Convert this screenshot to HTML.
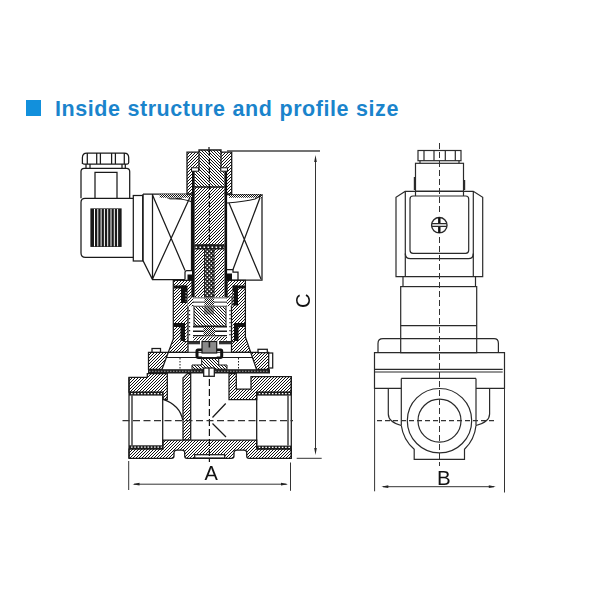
<!DOCTYPE html>
<html><head><meta charset="utf-8"><style>
html,body{margin:0;padding:0;background:#fff;width:600px;height:600px;overflow:hidden}
.sq{position:absolute;left:26px;top:100px;width:15px;height:16px;background:#1290dc}
.t{position:absolute;left:55px;top:97px;font-family:"Liberation Sans",sans-serif;font-weight:bold;font-size:21.5px;color:#1a84cc;white-space:nowrap;line-height:24px;letter-spacing:0.55px;word-spacing:0.5px}
svg{position:absolute;left:0;top:0;will-change:transform}
</style></head><body>
<div class="sq"></div>
<div class="t" id="t">Inside structure and profile size</div>
<svg width="600" height="600" viewBox="0 0 600 600">
<defs>
<pattern id="sp" width="4" height="4" patternUnits="userSpaceOnUse"><rect width="4" height="4" fill="#1a1a1a"/><rect x="0.6" y="0.6" width="1.6" height="1.6" fill="#fff"/><rect x="2.6" y="2.6" width="1.6" height="1.6" fill="#fff"/></pattern>
<pattern id="dt" width="2" height="2" patternUnits="userSpaceOnUse"><rect width="2" height="2" fill="#fff"/><rect width="1" height="1" fill="#111"/><rect x="1" y="1" width="1" height="1" fill="#111"/></pattern>
<clipPath id="c1"><path d="M187,152.2h44.7v41.8h-44.7Z"/></clipPath>
<clipPath id="c2"><path d="M199,150h22v37h-22Z"/></clipPath>
<clipPath id="c3"><path d="M194.5,171h30v16h-30Z"/></clipPath>
<clipPath id="c4"><path d="M194.5,187h30v58h-30Z"/></clipPath>
<clipPath id="c5"><path d="M194.5,245h30v52h-30Z"/></clipPath>
<clipPath id="c6"><path d="M173.3,280.4H192V297.3H188V352.3H168.3L173.3,339Z"/></clipPath>
<clipPath id="c7"><path d="M227,280.4H245.4V337L250.7,352.3H231.5V297.3H227Z"/></clipPath>
<clipPath id="c8"><path d="M148.5,352.3H168.3L162,369.3H148.5Z"/></clipPath>
<clipPath id="c9"><path d="M250.7,352.3H268.7V369.3H256.5Z"/></clipPath>
<clipPath id="c10"><path d="M194,306h32v20h-32Z"/></clipPath>
<clipPath id="c11"><path d="M187.5,297.3h6v9h-6Z"/></clipPath>
<clipPath id="c12"><path d="M226.5,297.3h5v9h-5Z"/></clipPath>
<clipPath id="c13"><path d="M193,336.5h34v4h-34Z"/></clipPath>
<clipPath id="c14"><path d="M201.7,358.5H218.7V365H227V369.2H192V365H201.7Z"/></clipPath>
<clipPath id="c15"><path d="M129,377.3H147.3V373.5H167.3V399.3H163V392H129Z"/></clipPath>
<clipPath id="c16"><path d="M183,378L187.5,373.5H190.7V440H183Z"/></clipPath>
<clipPath id="c17"><path d="M129,449H163V440H256.7V449H291.3V458.3H249Q246.7,458.3 246.7,456V452.5Q246.7,450 244,450H237Q234,450 234,452.5V456Q234,458.3 231.5,458.3H187Q184.7,458.3 184.7,456V452.5Q184.7,450 182,450H177Q174,450 174,452.5V456Q174,458.3 171.5,458.3H129Z"/></clipPath>
<clipPath id="c18"><path d="M251,376.7H291.3V392H256.7V399.7H229V373.5H236.3V389H251Z"/></clipPath>
</defs>
<g id="rightview" fill="none" stroke="#2a2a2a" stroke-width="1.2">
<rect x="418" y="150.5" width="43" height="10.2"/>
<path d="M424,150.5V160.7M434,150.5V160.7M445.3,150.5V160.7M455.3,150.5V160.7M420,160.7V163.3M459,160.7V163.3"/>
<rect x="415.5" y="163.3" width="48" height="28"/>
<path d="M415.5,191.3V196M463.5,191.3V196"/>
<path d="M414.6,177V190M464.4,180V190" stroke-width="1.6"/>
<path d="M405.3,191.3L396,197.3V276.7H482.7V197.3L473.3,191.3ZM405.3,191.3V276.7M473.3,191.3V276.7"/>
<rect x="410" y="196" width="58.7" height="57.3" rx="3"/>
<path d="M405.3,253.5Q405.3,258.7 410.5,258.7H468.3Q473.3,258.7 473.3,253.5" stroke-width="1.3"/>
<circle cx="439.3" cy="225.2" r="7.7" stroke-width="1.4"/>
<path d="M431.8,223.6H446.8M431.8,226.3H446.8" stroke-width="1.3"/>
<path d="M439.3,217.5V223M439.3,227V233" stroke-width="2.4" stroke="#111"/>
<path d="M403,276.7V286.6M475.5,276.7V286.6"/>
<rect x="400.7" y="286.6" width="76" height="66.1"/>
<path d="M400.7,325.6H476.7M400.7,338.7H476.7"/>
<path d="M378,352.7V343.5Q378,338.7 383,338.7H400.7M476.7,338.7H494Q498.4,338.7 498.4,343.5V352.7"/>
<path d="M401.3,388.3H374.5V352.7H504.5V388.3H476"/>
<path d="M374.5,369.3H502.7M374.5,372H502.7"/>
<path d="M401.3,378.4H476M401.3,378.4V425.5M476,378.4V425.5"/>
<path d="M388.3,388.3V414Q388.3,422 401.3,425.5M489.6,388.3V414Q489.6,422 476,425.5"/>
<path d="M401.3,425.5A38.5,38.5 0 0 0 414.2,449.3V459.3H464.5V449.3A38.5,38.5 0 0 0 476,425.5"/>
<circle cx="439.5" cy="420.7" r="32.2"/>
<circle cx="439.5" cy="420.7" r="21.5"/>
</g>
<g id="leftview" fill="none" stroke="#1a1a1a" stroke-width="1.25">
<!-- connector -->
<path d="M82.4,164V157.5Q82.4,153 86.9,153H124.2Q128.7,153 128.7,157.5V162.5Q128.7,164 127.2,164H83.9Q82.4,164 82.4,162.5Z"/>
<path d="M87.3,153V164M96.7,153V164M100.4,153V164M111.6,153V164M115.4,153V164M124.3,153V164"/>
<path d="M86,164V168.3M90,164V168.3M122,164V168.3M125.3,164V168.3"/>
<path d="M81,198.3V171.5Q81,168.3 84.2,168.3H126.5Q129.7,168.3 129.7,171.5V198.3"/>
<path d="M95,198.3V172.3H117V198.3"/>
<path d="M133.3,198.3H85Q81,198.3 81,202.3V253Q81,257.4 85.4,257.4H133.3"/>
<rect x="91" y="209" width="30" height="37.3" fill="#1a1a1a"/>
<path d="M94.5,209V246.3M97.8,209V246.3M101.1,209V246.3M104.4,209V246.3M107.7,209V246.3M111,209V246.3M114.3,209V246.3M117.6,209V246.3" stroke="#fff" stroke-width="1"/>
<rect x="133.3" y="195.5" width="9.4" height="65.5"/>
<!-- coil -->
<path d="M143,194H192M143,194V260.5L152.5,279.5H185M152.5,194V279.5"/>
<path d="M152.5,195L185,270.5M191,195L152.5,279"/>
<path d="M185,279.5V272.5Q185,270.5 187,270.5H191.5V195"/>
<rect x="187.5" y="274.5" width="4.5" height="6" fill="#111" stroke="none"/>
<rect x="227" y="273.5" width="5" height="7" fill="#111" stroke="none"/>
<rect x="159.7" y="194.3" width="32.6" height="3.4" fill="url(#dt)" stroke="none"/>
<path d="M166,197.7H183L180,199.5H170Z" fill="#555" stroke="none"/>
<path d="M176,198.5Q186,199.5 192,202"/>
<path d="M227,194.5H262V280H232"/>
<path d="M229,203L261,279M261,195L233,269.5"/>
<path d="M227,269.5H233V272H238V280"/>
<rect x="229" y="194.5" width="33" height="3.2" fill="url(#dt)" stroke="none"/>
<path d="M227,203Q245,201.5 255,199L262,195"/>
<!-- nut & core -->
<path d="M187,152.2h44.7v41.8h-44.7Z" fill="#fff" stroke="none"/>
<path d="M184,149L135,198M187,149L138,198M190,149L141,198M193,149L144,198M196,149L147,198M199,149L150,198M202,149L153,198M205,149L156,198M208,149L159,198M211,149L162,198M214,149L165,198M217,149L168,198M220,149L171,198M223,149L174,198M226,149L177,198M229,149L180,198M232,149L183,198M235,149L186,198M238,149L189,198M241,149L192,198M244,149L195,198M247,149L198,198M250,149L201,198M253,149L204,198M256,149L207,198M259,149L210,198M262,149L213,198M265,149L216,198M268,149L219,198M271,149L222,198M274,149L225,198M277,149L228,198M280,149L231,198M283,149L234,198" clip-path="url(#c1)" stroke="#111" stroke-width="1.0" fill="none"/>
<path d="M187,152.2h44.7v41.8h-44.7Z" stroke-width="1.3"/>
<path d="M199,150h22v37h-22Z" fill="#fff" stroke="none"/>
<path d="M196,118L225,147M196,121L225,150M196,124L225,153M196,127L225,156M196,130L225,159M196,133L225,162M196,136L225,165M196,139L225,168M196,142L225,171M196,145L225,174M196,148L225,177M196,151L225,180M196,154L225,183M196,157L225,186M196,160L225,189M196,163L225,192M196,166L225,195M196,169L225,198M196,172L225,201M196,175L225,204M196,178L225,207M196,181L225,210M196,184L225,213M196,187L225,216M196,190L225,219" clip-path="url(#c2)" stroke="#111" stroke-width="1.0" fill="none"/>
<path d="M199,150h22v37h-22Z" stroke-width="1.3"/>
<path d="M194.5,171h30v16h-30Z" fill="#fff" stroke="none"/>
<path d="M191,131L228,168M191,134L228,171M191,137L228,174M191,140L228,177M191,143L228,180M191,146L228,183M191,149L228,186M191,152L228,189M191,155L228,192M191,158L228,195M191,161L228,198M191,164L228,201M191,167L228,204M191,170L228,207M191,173L228,210M191,176L228,213M191,179L228,216M191,182L228,219M191,185L228,222M191,188L228,225M191,191L228,228" clip-path="url(#c3)" stroke="#111" stroke-width="1.0" fill="none"/>
<path d="M209,147V150"/>
<path d="M194.5,187h30v58h-30Z" fill="#fff" stroke="none"/>
<path d="M191,184L126,249M194,184L129,249M197,184L132,249M200,184L135,249M203,184L138,249M206,184L141,249M209,184L144,249M212,184L147,249M215,184L150,249M218,184L153,249M221,184L156,249M224,184L159,249M227,184L162,249M230,184L165,249M233,184L168,249M236,184L171,249M239,184L174,249M242,184L177,249M245,184L180,249M248,184L183,249M251,184L186,249M254,184L189,249M257,184L192,249M260,184L195,249M263,184L198,249M266,184L201,249M269,184L204,249M272,184L207,249M275,184L210,249M278,184L213,249M281,184L216,249M284,184L219,249M287,184L222,249M290,184L225,249M293,184L228,249" clip-path="url(#c4)" stroke="#111" stroke-width="1.0" fill="none"/>
<path d="M194.5,187H224.5M194.5,245H224.5" stroke-width="1.3"/>
<path d="M194.5,245h30v52h-30Z" fill="#fff" stroke="none"/>
<path d="M190,242L131,301M193,242L134,301M196,242L137,301M199,242L140,301M202,242L143,301M205,242L146,301M208,242L149,301M211,242L152,301M214,242L155,301M217,242L158,301M220,242L161,301M223,242L164,301M226,242L167,301M229,242L170,301M232,242L173,301M235,242L176,301M238,242L179,301M241,242L182,301M244,242L185,301M247,242L188,301M250,242L191,301M253,242L194,301M256,242L197,301M259,242L200,301M262,242L203,301M265,242L206,301M268,242L209,301M271,242L212,301M274,242L215,301M277,242L218,301M280,242L221,301M283,242L224,301M286,242L227,301" clip-path="url(#c5)" stroke="#111" stroke-width="1.0" fill="none"/>
<rect x="204.6" y="245" width="9.4" height="52" fill="url(#sp)" stroke-width="1"/>
<rect x="194.5" y="245" width="30" height="4.5" fill="#1a1a1a" stroke="none"/>
<path d="M195.5,247.2H224" stroke="#fff" stroke-width="1.6" stroke-dasharray="1.6 2.4"/>
<rect x="192" y="171" width="2.6" height="126" fill="#111" stroke="none"/>
<rect x="224.5" y="171" width="2.6" height="126" fill="#111" stroke="none"/>
<rect x="191.5" y="167.8" width="7" height="3.4" fill="#fff" stroke-width="1"/>
<rect x="220.8" y="167.8" width="6.7" height="3.4" fill="#fff" stroke-width="1"/>
<!-- bonnet -->
<path d="M173.3,280.4H192V297.3H188V352.3H168.3L173.3,339Z" fill="#fff" stroke="none"/>
<path d="M164,277L85,356M167,277L88,356M170,277L91,356M173,277L94,356M176,277L97,356M179,277L100,356M182,277L103,356M185,277L106,356M188,277L109,356M191,277L112,356M194,277L115,356M197,277L118,356M200,277L121,356M203,277L124,356M206,277L127,356M209,277L130,356M212,277L133,356M215,277L136,356M218,277L139,356M221,277L142,356M224,277L145,356M227,277L148,356M230,277L151,356M233,277L154,356M236,277L157,356M239,277L160,356M242,277L163,356M245,277L166,356M248,277L169,356M251,277L172,356M254,277L175,356M257,277L178,356M260,277L181,356M263,277L184,356M266,277L187,356M269,277L190,356M272,277L193,356M275,277L196,356" clip-path="url(#c6)" stroke="#111" stroke-width="1.0" fill="none"/>
<path d="M173.3,280.4H192V297.3H188V352.3H168.3L173.3,339Z"/>
<path d="M227,280.4H245.4V337L250.7,352.3H231.5V297.3H227Z" fill="#fff" stroke="none"/>
<path d="M224,277L145,356M227,277L148,356M230,277L151,356M233,277L154,356M236,277L157,356M239,277L160,356M242,277L163,356M245,277L166,356M248,277L169,356M251,277L172,356M254,277L175,356M257,277L178,356M260,277L181,356M263,277L184,356M266,277L187,356M269,277L190,356M272,277L193,356M275,277L196,356M278,277L199,356M281,277L202,356M284,277L205,356M287,277L208,356M290,277L211,356M293,277L214,356M296,277L217,356M299,277L220,356M302,277L223,356M305,277L226,356M308,277L229,356M311,277L232,356M314,277L235,356M317,277L238,356M320,277L241,356M323,277L244,356M326,277L247,356M329,277L250,356M332,277L253,356" clip-path="url(#c7)" stroke="#111" stroke-width="1.0" fill="none"/>
<path d="M227,280.4H245.4V337L250.7,352.3H231.5V297.3H227Z"/>
<path d="M148.5,352.3H168.3L162,369.3H148.5Z" fill="#fff" stroke="none"/>
<path d="M143,349L119,373M146,349L122,373M149,349L125,373M152,349L128,373M155,349L131,373M158,349L134,373M161,349L137,373M164,349L140,373M167,349L143,373M170,349L146,373M173,349L149,373M176,349L152,373M179,349L155,373M182,349L158,373M185,349L161,373M188,349L164,373M191,349L167,373M194,349L170,373" clip-path="url(#c8)" stroke="#111" stroke-width="1.0" fill="none"/>
<path d="M148.5,352.3H168.3L162,369.3H148.5Z"/>
<path d="M250.7,352.3H268.7V369.3H256.5Z" fill="#fff" stroke="none"/>
<path d="M245,349L221,373M248,349L224,373M251,349L227,373M254,349L230,373M257,349L233,373M260,349L236,373M263,349L239,373M266,349L242,373M269,349L245,373M272,349L248,373M275,349L251,373M278,349L254,373M281,349L257,373M284,349L260,373M287,349L263,373M290,349L266,373M293,349L269,373M296,349L272,373" clip-path="url(#c9)" stroke="#111" stroke-width="1.0" fill="none"/>
<path d="M250.7,352.3H268.7V369.3H256.5Z"/>
<path d="M168.3,352.3H250.7M166.5,357.5H252.5" stroke-width="1"/>
<path d="M180,358V369M238.5,358V369" stroke-width="1" stroke-dasharray="1.5 1.5"/>
<rect x="174" y="285.5" width="11" height="3" fill="#111" stroke="none"/>
<rect x="181" y="285.5" width="6.5" height="17.5" fill="#111" stroke="none"/>
<rect x="234" y="285.5" width="11" height="3" fill="#111" stroke="none"/>
<rect x="232.5" y="285.5" width="5.5" height="20" fill="#111" stroke="none"/>
<rect x="173.5" y="323" width="11" height="4" fill="#111" stroke="none"/>
<rect x="180.5" y="323" width="4.5" height="18" fill="#111" stroke="none"/>
<rect x="234.5" y="323" width="11" height="4" fill="#111" stroke="none"/>
<rect x="234" y="323" width="4.5" height="18" fill="#111" stroke="none"/>
<path d="M194,306h32v20h-32Z" fill="#fff" stroke="none"/>
<path d="M191,263L230,302M191,266L230,305M191,269L230,308M191,272L230,311M191,275L230,314M191,278L230,317M191,281L230,320M191,284L230,323M191,287L230,326M191,290L230,329M191,293L230,332M191,296L230,335M191,299L230,338M191,302L230,341M191,305L230,344M191,308L230,347M191,311L230,350M191,314L230,353M191,317L230,356M191,320L230,359M191,323L230,362M191,326L230,365M191,329L230,368" clip-path="url(#c10)" stroke="#111" stroke-width="1.0" fill="none"/>
<path d="M194,306h32v20h-32Z" stroke-width="1"/>
<rect x="204" y="306.5" width="10" height="8" fill="#222" opacity="0.5" stroke="none"/>
<path d="M187.5,297.3h6v9h-6Z" fill="#fff" stroke="none"/>
<path d="M183,294L167,310M186,294L170,310M189,294L173,310M192,294L176,310M195,294L179,310M198,294L182,310M201,294L185,310M204,294L188,310M207,294L191,310M210,294L194,310M213,294L197,310" clip-path="url(#c11)" stroke="#111" stroke-width="1.0" fill="none"/>
<path d="M226.5,297.3h5v9h-5Z" fill="#fff" stroke="none"/>
<path d="M222,294L206,310M225,294L209,310M228,294L212,310M231,294L215,310M234,294L218,310M237,294L221,310M240,294L224,310M243,294L227,310M246,294L230,310M249,294L233,310" clip-path="url(#c12)" stroke="#111" stroke-width="1.0" fill="none"/>
<rect x="193" y="297.5" width="34" height="9" fill="#fff" stroke="none"/>
<path d="M193,298H227M193,302.2H227M193,306H227" stroke-width="1.2"/>
<rect x="194" y="298.5" width="10" height="2.8" fill="#fff" stroke="none"/>
<rect x="214.5" y="298.5" width="11.5" height="2.8" fill="#fff" stroke="none"/>
<rect x="194" y="302.8" width="10" height="2.8" fill="#fff" stroke="none"/>
<rect x="214.5" y="302.8" width="11.5" height="2.8" fill="#fff" stroke="none"/>
<rect x="194" y="327.5" width="9.5" height="3" fill="#fff" stroke="none"/>
<rect x="215" y="327.5" width="11" height="3" fill="#fff" stroke="none"/>
<rect x="194" y="332" width="9.5" height="3" fill="#fff" stroke="none"/>
<rect x="215" y="332" width="11" height="3" fill="#fff" stroke="none"/>
<rect x="204.5" y="298.5" width="9.5" height="7" fill="url(#dt)" stroke="none"/>
<rect x="193" y="326" width="34" height="1.5" fill="#1a1a1a" stroke="none"/>
<rect x="193" y="330.5" width="34" height="1.5" fill="#1a1a1a" stroke="none"/>
<rect x="193" y="335" width="34" height="1.5" fill="#1a1a1a" stroke="none"/>
<rect x="203.5" y="327" width="11.5" height="8.5" fill="url(#dt)" stroke="none"/>
<path d="M193,336.5h34v4h-34Z" fill="#fff" stroke="none"/>
<path d="M189,333L178,344M192,333L181,344M195,333L184,344M198,333L187,344M201,333L190,344M204,333L193,344M207,333L196,344M210,333L199,344M213,333L202,344M216,333L205,344M219,333L208,344M222,333L211,344M225,333L214,344M228,333L217,344M231,333L220,344M234,333L223,344M237,333L226,344M240,333L229,344" clip-path="url(#c13)" stroke="#111" stroke-width="1.0" fill="none"/>
<path d="M189.5,310V338M230,310V338" stroke-dasharray="1.3 2.7" stroke-width="1.3"/>
<path d="M186,292V302M233.5,292V305M186,325V340M233,325V340" stroke="#fff" stroke-dasharray="1.2 2" stroke-width="1"/>
<rect x="188" y="341.5" width="12" height="2.8" fill="#333" stroke="none"/>
<rect x="219" y="341.5" width="12.5" height="2.8" fill="#333" stroke="none"/>
<path d="M202,348.5H198Q195.5,348.5 195.5,351V356Q195.5,359 198.5,359H202V356.5H198.5V351H202ZM216.7,348.5H220.7Q223.2,348.5 223.2,351V356Q223.2,359 220.2,359H216.7V356.5H220.2V351H216.7Z" fill="#111" stroke="none"/>
<path d="M184,341.6H200M219,341.6H235" stroke-width="1"/>
<rect x="202" y="341.5" width="14.7" height="11.5" fill="#8a8a8a" stroke-width="1.2"/>
<path d="M209.4,341.5V347.5" stroke-width="1.6"/>
<path d="M201.7,358.5H218.7V365H227V369.2H192V365H201.7Z" fill="#fff" stroke="none"/>
<path d="M189,312L231,354M189,315L231,357M189,318L231,360M189,321L231,363M189,324L231,366M189,327L231,369M189,330L231,372M189,333L231,375M189,336L231,378M189,339L231,381M189,342L231,384M189,345L231,387M189,348L231,390M189,351L231,393M189,354L231,396M189,357L231,399M189,360L231,402M189,363L231,405M189,366L231,408M189,369L231,411M189,372L231,414" clip-path="url(#c14)" stroke="#111" stroke-width="1.0" fill="none"/>
<path d="M201.7,358.5H218.7V365H227V369.2H192V365H201.7Z" stroke-width="1"/>
<rect x="152" y="348.5" width="8.5" height="3.8" fill="#fff"/>
<rect x="258" y="349.3" width="9.3" height="3.4" fill="#fff"/>
<rect x="268.7" y="353" width="4" height="15" fill="#fff"/>
<!-- diaphragm -->
<rect x="148" y="369.2" width="122" height="4.3" fill="#1e1e1e" stroke="none"/>
<path d="M149,371.3H269" stroke="#bbb" stroke-width="0.8" stroke-dasharray="1.5 1.5"/>
<rect x="203.7" y="368" width="10.6" height="8.3" fill="#fff"/>
<path d="M209,368V376.3"/>
<!-- body -->
<path d="M129,377.3H147.3V373.5H167.3V399.3H163V392H129Z" fill="#fff" stroke="none"/>
<path d="M125,370L92,403M128,370L95,403M131,370L98,403M134,370L101,403M137,370L104,403M140,370L107,403M143,370L110,403M146,370L113,403M149,370L116,403M152,370L119,403M155,370L122,403M158,370L125,403M161,370L128,403M164,370L131,403M167,370L134,403M170,370L137,403M173,370L140,403M176,370L143,403M179,370L146,403M182,370L149,403M185,370L152,403M188,370L155,403M191,370L158,403M194,370L161,403M197,370L164,403M200,370L167,403M203,370L170,403" clip-path="url(#c15)" stroke="#111" stroke-width="1.0" fill="none"/>
<path d="M129,377.3H147.3V373.5H167.3V399.3H163V392H129Z"/>
<path d="M183,378L187.5,373.5H190.7V440H183Z" fill="#fff" stroke="none"/>
<path d="M179,370L105,444M182,370L108,444M185,370L111,444M188,370L114,444M191,370L117,444M194,370L120,444M197,370L123,444M200,370L126,444M203,370L129,444M206,370L132,444M209,370L135,444M212,370L138,444M215,370L141,444M218,370L144,444M221,370L147,444M224,370L150,444M227,370L153,444M230,370L156,444M233,370L159,444M236,370L162,444M239,370L165,444M242,370L168,444M245,370L171,444M248,370L174,444M251,370L177,444M254,370L180,444M257,370L183,444M260,370L186,444M263,370L189,444M266,370L192,444" clip-path="url(#c16)" stroke="#111" stroke-width="1.0" fill="none"/>
<path d="M183,378L187.5,373.5H190.7V440H183Z"/>
<path d="M129,449H163V440H256.7V449H291.3V458.3H249Q246.7,458.3 246.7,456V452.5Q246.7,450 244,450H237Q234,450 234,452.5V456Q234,458.3 231.5,458.3H187Q184.7,458.3 184.7,456V452.5Q184.7,450 182,450H177Q174,450 174,452.5V456Q174,458.3 171.5,458.3H129Z" fill="#fff" stroke="none"/>
<path d="M124,437L99,462M127,437L102,462M130,437L105,462M133,437L108,462M136,437L111,462M139,437L114,462M142,437L117,462M145,437L120,462M148,437L123,462M151,437L126,462M154,437L129,462M157,437L132,462M160,437L135,462M163,437L138,462M166,437L141,462M169,437L144,462M172,437L147,462M175,437L150,462M178,437L153,462M181,437L156,462M184,437L159,462M187,437L162,462M190,437L165,462M193,437L168,462M196,437L171,462M199,437L174,462M202,437L177,462M205,437L180,462M208,437L183,462M211,437L186,462M214,437L189,462M217,437L192,462M220,437L195,462M223,437L198,462M226,437L201,462M229,437L204,462M232,437L207,462M235,437L210,462M238,437L213,462M241,437L216,462M244,437L219,462M247,437L222,462M250,437L225,462M253,437L228,462M256,437L231,462M259,437L234,462M262,437L237,462M265,437L240,462M268,437L243,462M271,437L246,462M274,437L249,462M277,437L252,462M280,437L255,462M283,437L258,462M286,437L261,462M289,437L264,462M292,437L267,462M295,437L270,462M298,437L273,462M301,437L276,462M304,437L279,462M307,437L282,462M310,437L285,462M313,437L288,462M316,437L291,462M319,437L294,462" clip-path="url(#c17)" stroke="#111" stroke-width="1.0" fill="none"/>
<path d="M129,449H163V440H256.7V449H291.3V458.3H249Q246.7,458.3 246.7,456V452.5Q246.7,450 244,450H237Q234,450 234,452.5V456Q234,458.3 231.5,458.3H187Q184.7,458.3 184.7,456V452.5Q184.7,450 182,450H177Q174,450 174,452.5V456Q174,458.3 171.5,458.3H129Z"/>
<path d="M251,376.7H291.3V392H256.7V399.7H229V373.5H236.3V389H251Z" fill="#fff" stroke="none"/>
<path d="M224,370L191,403M227,370L194,403M230,370L197,403M233,370L200,403M236,370L203,403M239,370L206,403M242,370L209,403M245,370L212,403M248,370L215,403M251,370L218,403M254,370L221,403M257,370L224,403M260,370L227,403M263,370L230,403M266,370L233,403M269,370L236,403M272,370L239,403M275,370L242,403M278,370L245,403M281,370L248,403M284,370L251,403M287,370L254,403M290,370L257,403M293,370L260,403M296,370L263,403M299,370L266,403M302,370L269,403M305,370L272,403M308,370L275,403M311,370L278,403M314,370L281,403M317,370L284,403M320,370L287,403M323,370L290,403M326,370L293,403" clip-path="url(#c18)" stroke="#111" stroke-width="1.0" fill="none"/>
<path d="M251,376.7H291.3V392H256.7V399.7H229V373.5H236.3V389H251Z"/>
<path d="M129,377.3V458.3M291.3,376.7V458.3"/>
<rect x="129" y="391.8" width="34" height="3.8" fill="#1a1a1a" stroke="none"/>
<path d="M131,393.7h31" stroke="#fff" stroke-width="1.3" stroke-dasharray="1.6 1.7"/>
<rect x="129" y="445.3" width="34" height="3.7" fill="#1a1a1a" stroke="none"/>
<path d="M131,447.15000000000003h31" stroke="#fff" stroke-width="1.3" stroke-dasharray="1.6 1.7"/>
<rect x="256.7" y="391.8" width="34.6" height="3.8" fill="#1a1a1a" stroke="none"/>
<path d="M258.7,393.7h31.6" stroke="#fff" stroke-width="1.3" stroke-dasharray="1.6 1.7"/>
<rect x="256.7" y="445.6" width="34.6" height="3.7" fill="#1a1a1a" stroke="none"/>
<path d="M258.7,447.45000000000005h31.6" stroke="#fff" stroke-width="1.3" stroke-dasharray="1.6 1.7"/>
<path d="M132,395.6V445.3M288,395.6V445.6M162.7,395.6V445.3M256.7,395.6V445.6"/>
<path d="M163,399.3Q180,405 182.7,420"/>
<rect x="194.7" y="454.7" width="30" height="3.3" fill="#fff"/>
<path d="M212.5,417.5L225.7,403.5M212.5,423.5L226,437"/>
</g>
<g id="dims" fill="none" stroke="#333" stroke-width="1">
<path d="M439.5,143V214M439.5,237V466" stroke-dasharray="6 3"/><path d="M209.4,150V244" stroke-dasharray="6 2.5" stroke-width="1.3" stroke="#111"/><path d="M209.4,379V462" stroke-dasharray="7 3" stroke-width="1.2" stroke="#111"/>
<path d="M377,420.7H497" stroke-dasharray="5 3" stroke-width="1.2"/><path d="M122.5,420.7H293" stroke-dasharray="7 3.5" stroke-width="1.2"/>
<path d="M374.6,388.3V491.3M504.5,388.3V492.5M383,486.7H494"/>
<path d="M227,151H320" stroke-width="1.6" stroke="#444"/>
<path d="M296.7,458.3H321.7M315.5,159V451"/>
<path d="M128.7,461V490M290.5,462.5V490.8M134,484.2H286.5"/>
<path d="M381.3,486.7l7,-1.4v2.8zM495.8,486.7l-7,-1.4v2.8zM315.5,155l-1.3,7h2.6zM315.5,455l-1.3,-7h2.6zM132.5,484.2l7,-1.4v2.8zM288,484.2l-7,-1.4v2.8z" fill="#222" stroke="none"/>
<text x="437" y="484.7" font-family="Liberation Sans" font-size="20.5" fill="#111" stroke="none">B</text>
<text x="204.5" y="480.3" font-family="Liberation Sans" font-size="20" fill="#111" stroke="none">A</text>
<text x="0" y="0" font-family="Liberation Sans" font-size="20" fill="#111" stroke="none" transform="translate(310.3,308) rotate(-90)">C</text>
</g>
</svg>
</body></html>
